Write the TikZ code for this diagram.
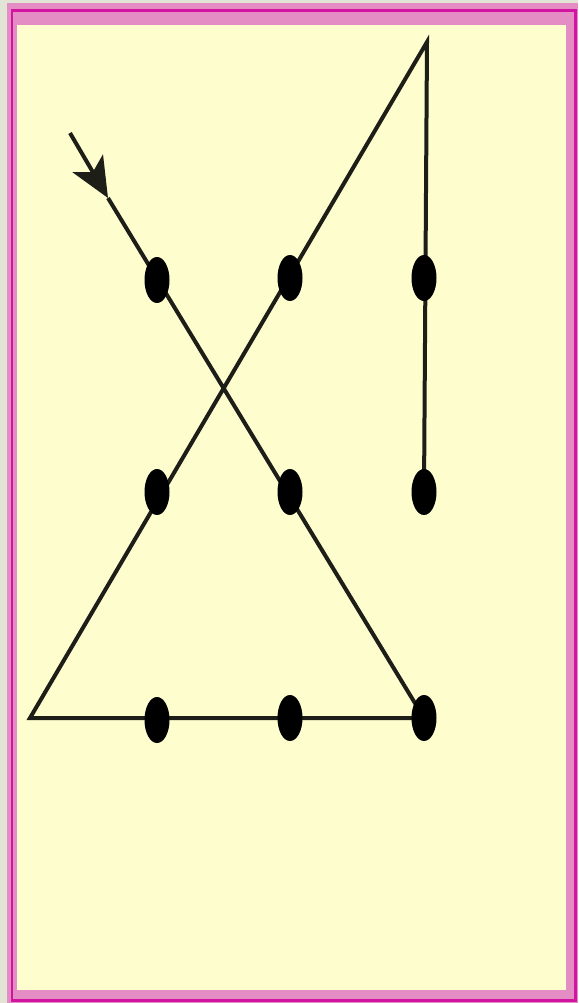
\documentclass[tikz,border=0pt]{standalone}
\usetikzlibrary{arrows.meta,shapes.geometric}
\definecolor{bgyellow}{RGB}{254,253,206}
\definecolor{pinkl}{RGB}{228,140,196}
\definecolor{pinkd}{RGB}{210,20,160}
\definecolor{outergray}{RGB}{226,228,214}
\definecolor{ink}{RGB}{30,30,25}
\tikzset{
  dotnode/.style={ellipse, fill=black, minimum width=0.5cm, minimum height=0.92cm, inner sep=0pt},
  pathline/.style={draw=ink, line width=0.08cm, line join=miter},
}
\begin{document}
\begin{tikzpicture}[x=0.02cm,y=-0.02cm]
\useasboundingbox (0,0) rectangle (578,1003);
\fill[outergray] (0,0) rectangle (578,1003);
\fill[pinkl] (7,3) rectangle (578,1003);
\draw[pinkd, line width=0.06cm] (12,11) rectangle (575,1000);
\fill[bgyellow] (17,25) rectangle (566,990);
% coordinates of dots
\foreach \n/\x/\y in {a1/157/280, a2/290/278, a3/424/278,
                       b1/157/492, b2/290/492, b3/424/492,
                       c1/157/720, c2/290/718, c3/424/718}
  \coordinate (p\n) at (\x,\y);
\coordinate (start) at (70,133);
\coordinate (tip) at (108,198);
\coordinate (bl) at (30,718);
\coordinate (top) at (427,42);
\draw[pathline, -{Stealth[length=0.8cm, width=0.7cm, inset=0.2cm]}] (start) -- (tip);
\draw[pathline] (tip) -- (pc3) -- (bl) -- (top) -- (pb3);
% dots on top
\foreach \n in {a1,a2,a3,b1,b2,b3,c1,c2,c3}
  \node[dotnode] (\n) at (p\n) {};
\end{tikzpicture}
\end{document}
